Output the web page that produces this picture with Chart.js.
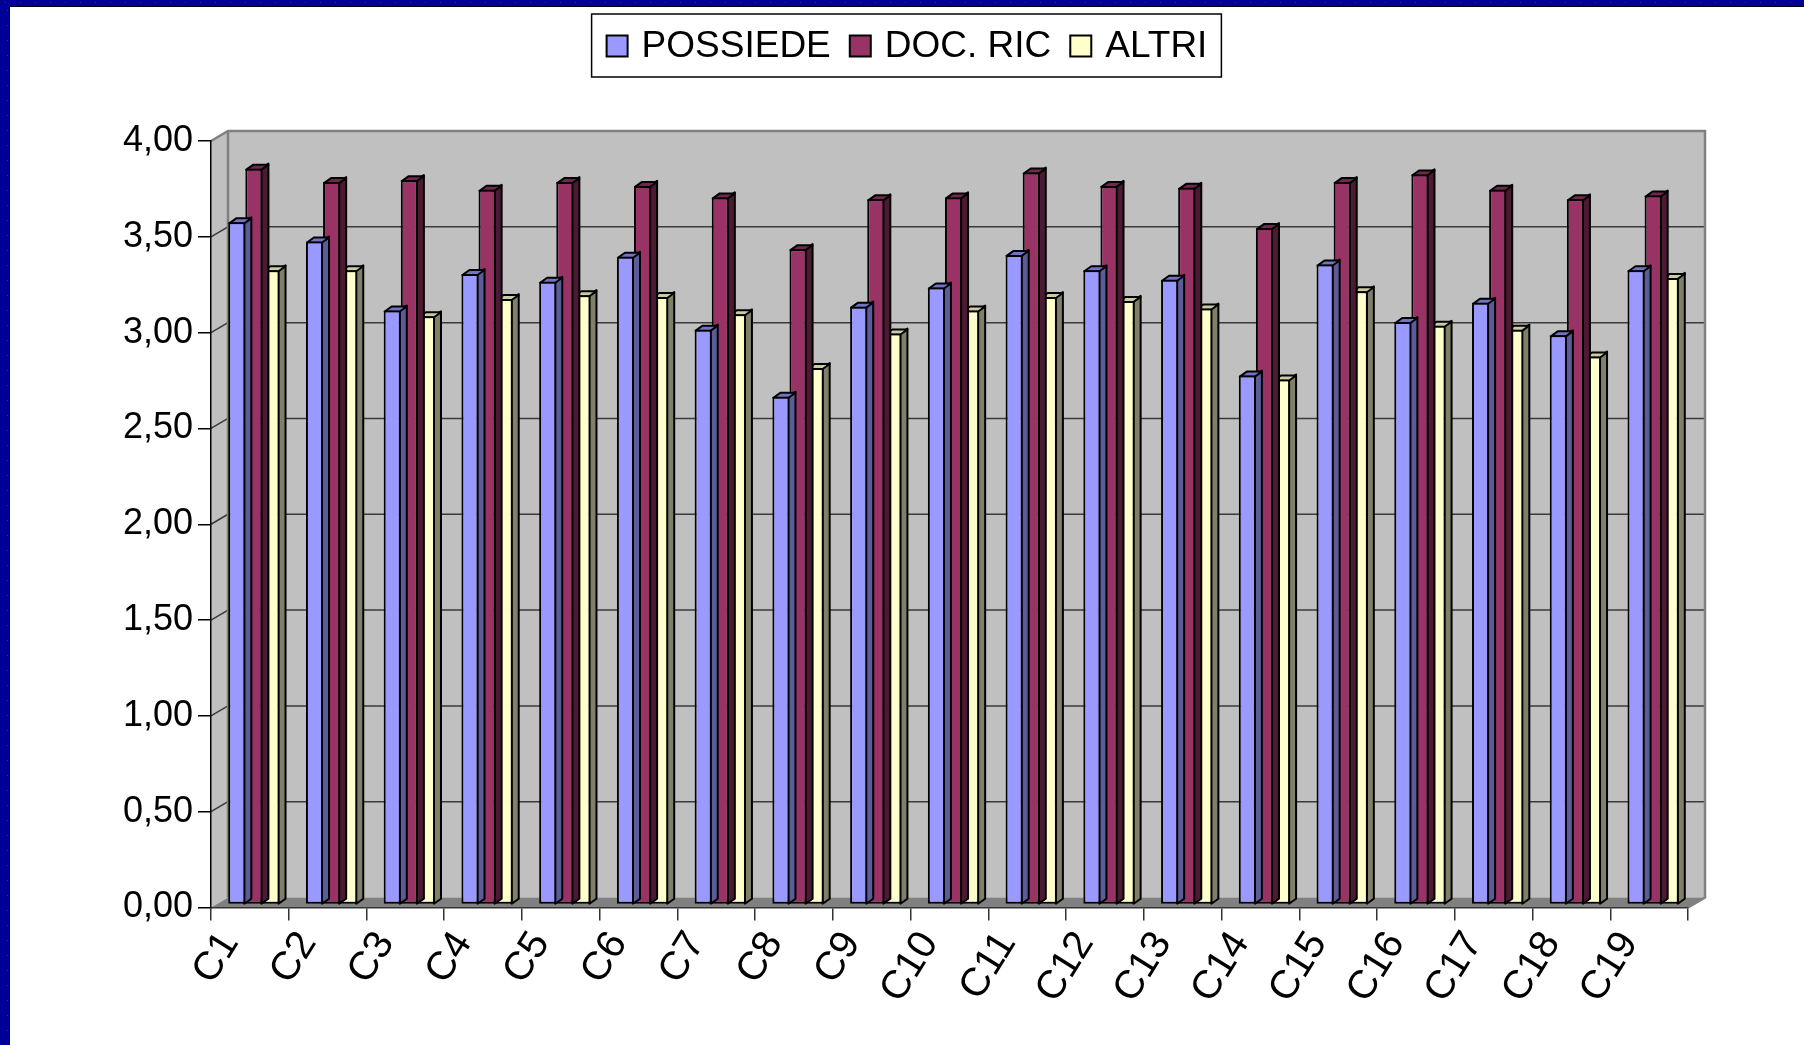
<!DOCTYPE html>
<html>
<head>
<meta charset="utf-8">
<script src="https://cdn.jsdelivr.net/npm/chart.js@4.4.1/dist/chart.umd.min.js"></script>
<style>
html,body{margin:0;padding:0;background:#fff;overflow:hidden}
canvas{display:block}
</style>
</head>
<body>
<canvas id="c" width="1804" height="1045"></canvas>
<script>
// ---- data ----
const categories = ['C1','C2','C3','C4','C5','C6','C7','C8','C9','C10','C11','C12','C13','C14','C15','C16','C17','C18','C19'];
const seriesNames = ['POSSIEDE','DOC. RIC','ALTRI'];
const possiede = [3.56,3.46,3.10,3.29,3.25,3.38,3.00,2.65,3.12,3.22,3.39,3.31,3.26,2.76,3.34,3.04,3.14,2.97,3.31];
const docRic   = [3.84,3.77,3.78,3.73,3.77,3.75,3.69,3.42,3.68,3.69,3.82,3.75,3.74,3.53,3.77,3.81,3.73,3.68,3.70];
const altri    = [3.31,3.31,3.07,3.16,3.18,3.17,3.08,2.80,2.98,3.10,3.17,3.15,3.11,2.74,3.20,3.02,3.00,2.86,3.27];
const yTickValues = [0,0.5,1,1.5,2,2.5,3,3.5,4];
const yTickLabels = ['0,00','0,50','1,00','1,50','2,00','2,50','3,00','3,50','4,00'];

// ---- styles ----
const FONT = "'Liberation Sans', Arial, Helvetica, sans-serif";
const faceColors = [
  {front:'#9999FF', side:'#5c5c99', top:'#7373c6'},
  {front:'#993366', side:'#4d1a33', top:'#732650'},
  {front:'#FFFFCC', side:'#80806a', top:'#cccca3'}
];
const WALL_DX = 17, WALL_DY = 10;   // depth of walls
const BAR_DX = 7, BAR_DY = 5;       // depth of bars
const ROW_DX = 4, ROW_DY = -3;      // bars stand slightly behind the front edge

function poly(ctx, pts, fill, stroke, lw) {
  ctx.beginPath();
  ctx.moveTo(pts[0][0], pts[0][1]);
  for (let i = 1; i < pts.length; i++) ctx.lineTo(pts[i][0], pts[i][1]);
  ctx.closePath();
  if (fill) { ctx.fillStyle = fill; ctx.fill(); }
  if (stroke) { ctx.strokeStyle = stroke; ctx.lineWidth = lw || 1; ctx.stroke(); }
}

const scenePlugin = {
  id: 'scene',
  beforeDraw(chart) {
    const ctx = chart.ctx;
    const W = chart.width, H = chart.height;
    ctx.save();
    ctx.fillStyle = '#ffffff';
    ctx.fillRect(0, 0, W, H);
    // slide frame (top and left)
    ctx.fillStyle = '#000099';
    ctx.fillRect(0, 0, W, 6);
    ctx.fillRect(0, 0, 9, H);
    ctx.fillStyle = '#2b2bb8';
    for (let x = 5; x < W; x += 15) ctx.fillRect(x, 2, 1, 1);
    for (let y = 10; y < H; y += 15) ctx.fillRect(7, y, 1, 1);
    ctx.fillStyle = '#000000';
    ctx.fillRect(9, 6, W - 9, 1);
    ctx.fillRect(9, 6, 1, H - 6);

    // 3D walls
    const {left, right, top, bottom} = chart.chartArea;
    const ys = chart.scales.y;
    const bx0 = left + WALL_DX, bx1 = right + WALL_DX;
    const by0 = top - WALL_DY, by1 = bottom - WALL_DY;
    ctx.fillStyle = '#c0c0c0';
    ctx.fillRect(bx0, by0, bx1 - bx0, by1 - by0);
    poly(ctx, [[left, top], [bx0, by0], [bx0, by1], [left, bottom]], '#c0c0c0');
    poly(ctx, [[left, bottom], [bx0, by1], [bx1, by1], [right, bottom]], '#808080');
    // gridlines on back wall and side wall
    ctx.lineWidth = 1.5;
    ctx.strokeStyle = '#3a3a3a';
    yTickValues.forEach(v => {
      const py = ys.getPixelForValue(v);
      if (v > 0 && v < 4) {
        ctx.beginPath();
        ctx.moveTo(bx0, py - WALL_DY);
        ctx.lineTo(bx1, py - WALL_DY);
        ctx.stroke();
        ctx.beginPath();
        ctx.moveTo(left, py);
        ctx.lineTo(bx0, py - WALL_DY);
        ctx.stroke();
      }
    });
    // wall edges
    ctx.strokeStyle = '#808080';
    ctx.lineWidth = 2.5;
    ctx.beginPath();
    ctx.moveTo(left, top);
    ctx.lineTo(bx0, by0);
    ctx.lineTo(bx1, by0);
    ctx.lineTo(bx1, by1);
    ctx.lineTo(right, bottom);
    ctx.stroke();
    ctx.beginPath();
    ctx.moveTo(bx0, by0);
    ctx.lineTo(bx0, by1);
    ctx.stroke();
    ctx.restore();
  },
  beforeDatasetsDraw(chart) {
    chart.ctx.save();
    chart.ctx.translate(ROW_DX, ROW_DY);
  },
  afterDatasetsDraw(chart) {
    chart.ctx.restore();
  },
  beforeDatasetDraw(chart, args) {
    const ctx = chart.ctx;
    const meta = chart.getDatasetMeta(args.index);
    const c = faceColors[args.index];
    ctx.save();
    ctx.lineJoin = 'round';
    meta.data.forEach(bar => {
      const {x, y, base, width} = bar.getProps(['x', 'y', 'base', 'width'], true);
      const l = x - width / 2, r = x + width / 2;
      poly(ctx, [[r - 1, y], [r - 1 + BAR_DX, y - BAR_DY], [r - 1 + BAR_DX, base - BAR_DY], [r - 1, base]], c.side, '#000', 2);
      poly(ctx, [[l + 1, y + 1], [l + 1 + BAR_DX, y + 1 - BAR_DY], [r - 1 + BAR_DX, y + 1 - BAR_DY], [r - 1, y + 1]], c.top, '#000', 2);
    });
    ctx.restore();
  },
  afterDraw(chart) {
    // legend in a framed box
    const ctx = chart.ctx;
    ctx.save();
    ctx.font = '37px ' + FONT;
    ctx.textBaseline = 'middle';
    const sq = 21, gapText = 14, gapItem = 19, cy = 46;
    const widths = chart.data.datasets.map(d => ctx.measureText(d.label).width);
    let total = 0;
    widths.forEach((w, i) => { total += sq + gapText + w + (i < widths.length - 1 ? gapItem : 0); });
    const cx = 907;
    let x = cx - total / 2;
    const boxL = x - 15, boxR = x + total + 14;
    ctx.strokeStyle = '#000';
    ctx.lineWidth = 1.5;
    ctx.strokeRect(boxL, 14, boxR - boxL, 63);
    chart.data.datasets.forEach((d, i) => {
      ctx.fillStyle = d.backgroundColor;
      ctx.fillRect(x, cy - sq / 2, sq, sq);
      ctx.lineWidth = 2;
      ctx.strokeRect(x, cy - sq / 2, sq, sq);
      x += sq + gapText;
      ctx.fillStyle = '#000';
      ctx.fillText(d.label, x, cy + 1);
      x += widths[i] + gapItem;
    });
    ctx.restore();
  }
};

const seriesValues = [possiede, docRic, altri];
const datasets = seriesNames.map((name, i) => ({
  label: name,
  data: seriesValues[i],
  backgroundColor: faceColors[i].front,
  borderColor: '#000000',
  borderWidth: 2,
  borderSkipped: false,
  categoryPercentage: 0.66,
  barPercentage: 1.0
}));

new Chart(document.getElementById('c'), {
  type: 'bar',
  data: { labels: categories, datasets },
  plugins: [scenePlugin],
  options: {
    responsive: false,
    animation: false,
    devicePixelRatio: 1,
    layout: { padding: { left: 0, top: 141, right: 116, bottom: 0 } },
    plugins: { legend: { display: false }, tooltip: { enabled: false } },
    scales: {
      x: {
        type: 'category',
        offset: true,
        afterFit(s) { s.height = 137.5; },
        grid: { offset: true, drawOnChartArea: false, drawTicks: true, tickLength: 13, color: '#333333', lineWidth: 1.5 },
        border: { display: true, color: '#333333', width: 1.5 },
        ticks: {
          autoSkip: false, maxRotation: 58, minRotation: 58,
          padding: 3, labelOffset: -20,
          color: '#000', font: { family: FONT, size: 40 }
        }
      },
      y: {
        min: 0, max: 4,
        afterFit(s) { s.width = 211; },
        afterBuildTicks(s) { s.ticks = yTickValues.map(v => ({ value: v })); },
        grid: { drawOnChartArea: false, drawTicks: true, tickLength: 13, color: '#000', lineWidth: 1.5 },
        border: { display: true, color: '#000', width: 1.5 },
        ticks: {
          padding: 5, color: '#000', font: { family: FONT, size: 36 },
          callback: (v, i) => yTickLabels[i]
        }
      }
    }
  }
});
</script>
</body>
</html>
